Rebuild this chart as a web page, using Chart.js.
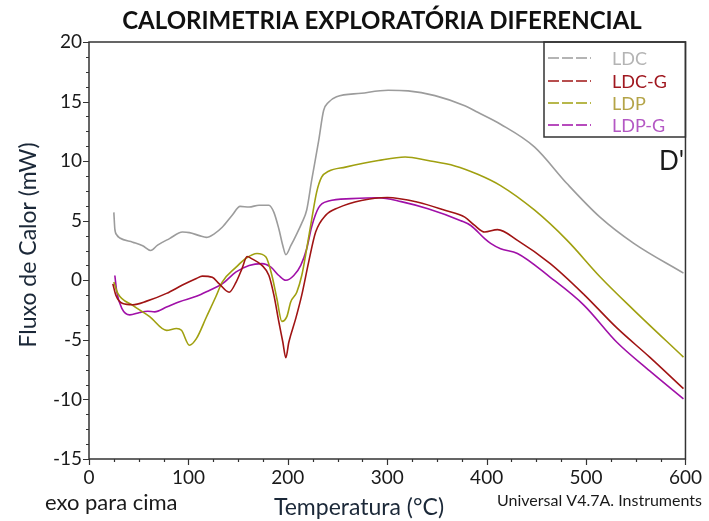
<!DOCTYPE html>
<html>
<head>
<meta charset="utf-8">
<title>Calorimetria Exploratória Diferencial</title>
<script src="https://cdn.jsdelivr.net/npm/chart.js@4.4.0/dist/chart.umd.min.js"></script>
<style>
    html, body { margin: 0; padding: 0; background: #fff; }
    #wrap { position: relative; width: 709px; height: 521px; }
</style>
</head>
<body>
<div id="wrap"><canvas id="dsc-chart" width="709" height="521"></canvas></div>
<script>
// DSC curves: temperature (°C) and heat flow (mW) for each sample
const ldcT = [25, 26, 28, 31, 44, 54, 62, 69, 81, 94, 101, 111, 118, 126, 134, 144, 152, 161, 171, 181, 186, 191, 195, 198, 203, 209, 214, 219, 224, 231, 236, 241, 249, 274, 301, 321, 348, 378, 391, 414, 448, 481, 514, 548, 598];
const ldcY = [5.7, 4.3, 3.8, 3.55, 3.2, 2.9, 2.5, 2.95, 3.5, 4.05, 4.0, 3.75, 3.6, 3.9, 4.45, 5.45, 6.2, 6.15, 6.3, 6.3, 5.7, 4.3, 2.9, 2.15, 2.9, 3.9, 4.8, 5.9, 8.4, 11.7, 14.25, 14.95, 15.4, 15.7, 15.95, 15.9, 15.5, 14.65, 14.1, 13.1, 11.2, 8.1, 5.3, 3.1, 0.6];

const ldcgT = [24, 27, 34, 44, 58, 78, 94, 108, 114, 124, 131, 141, 148, 154, 159, 164, 174, 181, 186, 191, 195, 198, 201, 208, 214, 221, 228, 238, 251, 274, 300, 331, 358, 378, 388, 398, 411, 431, 464, 498, 531, 564, 598];
const ldcgY = [-0.3, -1.25, -1.95, -2.05, -1.75, -1.1, -0.4, 0.15, 0.35, 0.25, -0.3, -1.0, -0.15, 1.0, 2.0, 1.8, 1.25, 0.4, -1.25, -3.5, -5.2, -6.5, -5.2, -3.2, -1.25, 1.55, 4.05, 5.45, 6.1, 6.7, 6.95, 6.55, 5.87, 5.3, 4.6, 4.05, 4.25, 3.35, 1.4, -1.2, -4.0, -6.45, -9.1];

const ldpT = [25, 29, 44, 61, 78, 88, 93, 101, 108, 118, 128, 134, 148, 158, 169, 178, 184, 189, 194, 199, 203, 209, 214, 219, 224, 229, 234, 241, 258, 291, 318, 341, 368, 391, 414, 448, 481, 514, 548, 598];
const ldpY = [-0.15, -1.1, -2.1, -3.05, -4.2, -4.05, -4.2, -5.45, -4.9, -3.1, -1.3, -0.15, 1.1, 1.85, 2.25, 1.95, 0.4, -1.55, -3.45, -3.05, -1.8, -1.0, 0.4, 2.65, 5.1, 7.4, 8.65, 9.15, 9.5, 10.05, 10.35, 10.05, 9.6, 8.9, 7.95, 5.9, 3.35, 0.3, -2.5, -6.45];

const ldpgT = [26, 28, 33, 41, 51, 59, 66, 78, 91, 108, 121, 134, 148, 161, 174, 183, 191, 198, 206, 213, 219, 224, 231, 241, 264, 291, 314, 341, 374, 384, 398, 404, 414, 431, 464, 498, 531, 564, 598];
const ldpgY = [0.4, -1.0, -2.35, -2.9, -2.7, -2.6, -2.65, -2.25, -1.8, -1.35, -0.85, -0.3, 0.7, 1.25, 1.4, 1.1, 0.4, 0.0, 0.4, 1.25, 2.65, 4.5, 6.1, 6.65, 6.85, 6.93, 6.6, 6.0, 5.0, 4.6, 3.5, 3.1, 2.65, 2.25, 0.25, -2.1, -5.2, -7.6, -9.95];

const seriesNames = ['LDC', 'LDC-G', 'LDP', 'LDP-G'];
const lineColors = ['#9c9c9c', '#a01414', '#a0a010', '#a010a8'];
const legendTextColors = ['#b4b4b4', '#a01820', '#b4a448', '#b458c4'];

const xTickValues = [0, 100, 200, 300, 400, 500, 600];
const yTickValues = [-15, -10, -5, 0, 5, 10, 15, 20];

const FONT = 'Lato, "Liberation Sans", sans-serif';

function toPoints(ts, ys) {
    return ts.map((t, i) => ({ x: t, y: ys[i] }));
}

const curves = [
    toPoints(ldcT, ldcY),
    toPoints(ldcgT, ldcgY),
    toPoints(ldpT, ldpY),
    toPoints(ldpgT, ldpgY)
];

// frame, minor ticks, legend box and the loose captions
const decorations = {
    id: 'decorations',
    afterDraw(chart) {
        const ctx = chart.ctx;
        const area = chart.chartArea;
        const xs = chart.scales.x;
        const ys = chart.scales.y;
        ctx.save();

        // plot frame
        ctx.strokeStyle = '#333';
        ctx.lineWidth = 1.5;
        ctx.strokeRect(area.left, area.top, area.right - area.left, area.bottom - area.top);

        // tick marks pointing out of the frame
        ctx.lineWidth = 1.2;
        ctx.beginPath();
        for (let v = -15; v <= 20.001; v += 1.25) {
            const py = Math.round(ys.getPixelForValue(v)) + 0.5;
            const len = Math.abs(v % 5) < 0.01 ? 6 : 3;
            ctx.moveTo(area.left - len, py);
            ctx.lineTo(area.left, py);
        }
        for (let t = 0; t <= 600; t += 25) {
            const px = Math.round(xs.getPixelForValue(t)) + 0.5;
            const len = t % 100 === 0 ? 6 : 3;
            ctx.moveTo(px, area.bottom);
            ctx.lineTo(px, area.bottom + len);
        }
        ctx.stroke();

        // legend box in the upper right corner
        const boxLeft = 544;
        const boxBottom = 137;
        ctx.lineWidth = 1.5;
        ctx.strokeStyle = '#333';
        ctx.strokeRect(boxLeft, area.top, area.right - boxLeft, boxBottom - area.top);
        const rowY = [58, 81, 103, 125];
        ctx.font = '18px ' + FONT;
        ctx.textAlign = 'left';
        ctx.textBaseline = 'middle';
        seriesNames.forEach((name, i) => {
            ctx.strokeStyle = lineColors[i];
            ctx.lineWidth = 1.5;
            ctx.setLineDash([11, 3]);
            ctx.beginPath();
            ctx.moveTo(548, rowY[i]);
            ctx.lineTo(591, rowY[i]);
            ctx.stroke();
            ctx.setLineDash([]);
            ctx.fillStyle = legendTextColors[i];
            ctx.fillText(name, 612, rowY[i] + 1);
        });

        // title
        ctx.fillStyle = '#111';
        ctx.textAlign = 'center';
        ctx.font = 'bold 24px ' + FONT;
        ctx.fillText('CALORIMETRIA EXPLORATÓRIA DIFERENCIAL', 382, 21);

        // axis titles
        ctx.fillStyle = '#1b2838';
        ctx.font = '23px ' + FONT;
        ctx.fillText('Temperatura (°C)', 359, 508);
        ctx.save();
        ctx.translate(29, 245);
        ctx.rotate(-Math.PI / 2);
        ctx.fillText('Fluxo de Calor (mW)', 0, 0);
        ctx.restore();

        // captions
        ctx.fillStyle = '#1a1a1a';
        ctx.textAlign = 'left';
        ctx.font = '22px ' + FONT;
        ctx.fillText('exo para cima', 45, 503);
        ctx.font = '16px ' + FONT;
        ctx.fillText('Universal V4.7A. Instruments', 497, 501);
        ctx.font = '26px ' + FONT;
        ctx.fillText("D'", 659, 162);

        ctx.restore();
    }
};

const ctx = document.getElementById('dsc-chart').getContext('2d');
const dscChart = new Chart(ctx, {
    type: 'line',
    data: {
        datasets: curves.map((pts, i) => ({
            label: seriesNames[i],
            data: pts,
            borderColor: lineColors[i],
            borderWidth: 1.6,
            pointRadius: 0,
            fill: false,
            cubicInterpolationMode: 'monotone'
        }))
    },
    options: {
        responsive: false,
        animation: false,
        layout: { padding: { left: 0, right: 19, top: 42, bottom: 0 } },
        plugins: {
            legend: { display: false },
            title: { display: false },
            tooltip: { enabled: false }
        },
        scales: {
            x: {
                type: 'linear',
                min: 0,
                max: 600,
                afterFit: scale => { scale.height = 62; },
                afterBuildTicks: scale => { scale.ticks = xTickValues.map(v => ({ value: v })); },
                grid: { display: false, drawTicks: false },
                border: { display: false },
                ticks: {
                    padding: 7,
                    maxRotation: 0,
                    color: '#1a1a1a',
                    font: { family: FONT, size: 19 }
                }
            },
            y: {
                type: 'linear',
                min: -15,
                max: 20,
                afterFit: scale => { scale.width = 89; },
                afterBuildTicks: scale => { scale.ticks = yTickValues.map(v => ({ value: v })); },
                grid: { display: false, drawTicks: false },
                border: { display: false },
                ticks: {
                    padding: 7,
                    color: '#1a1a1a',
                    font: { family: FONT, size: 19 }
                }
            }
        }
    },
    plugins: [decorations]
});
</script>
</body>
</html>
